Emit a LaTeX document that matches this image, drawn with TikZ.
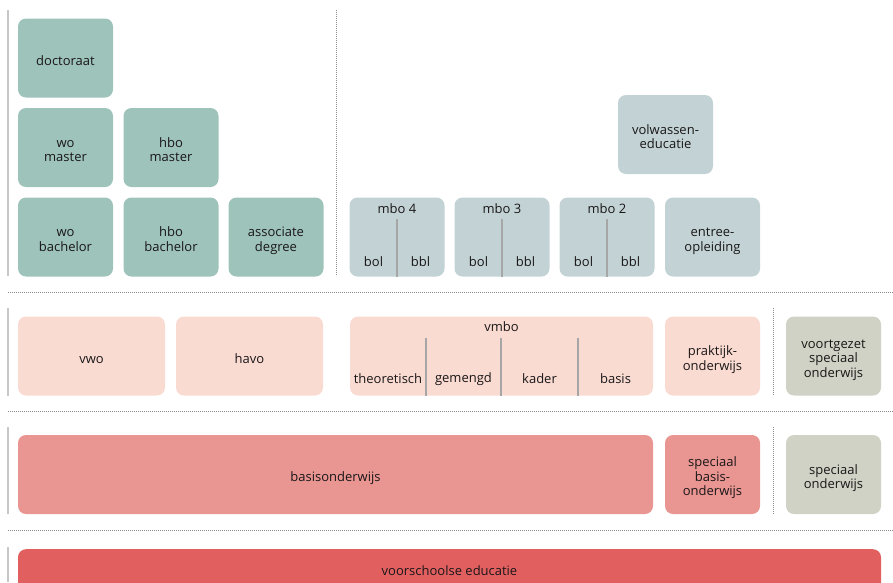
\documentclass[tikz,border=0pt]{standalone}
\usepackage{fontspec}
\setmainfont{Open Sans}
\definecolor{teal1}{HTML}{9EC3BB}
\definecolor{mbo1}{HTML}{C3D3D5}
\definecolor{pink1}{HTML}{FADBD2}
\definecolor{gg1}{HTML}{D0D2C5}
\definecolor{basis1}{HTML}{E99592}
\definecolor{vve1}{HTML}{E25F60}
\definecolor{txt}{HTML}{1A1718}
\newcommand\topstr{\rule{0pt}{17pt}}
\newcommand\botstr{\rule[-3pt]{0pt}{3pt}}
\newcommand\bxt[1]{\topstr#1\botstr}
\begin{document}
\begin{tikzpicture}[x=1pt,y=-1pt,
  box/.style={rounded corners=8pt,inner sep=0pt,align=center,text=txt,
    font=\fontsize{13}{14.5}\selectfont},
  tealbox/.style={box,fill=teal1,minimum width=95,minimum height=79},
  mbobox/.style={box,fill=mbo1,minimum width=95,minimum height=79},
  pinkbox/.style={box,fill=pink1,minimum height=79},
  ggbox/.style={box,fill=gg1,minimum width=95,minimum height=79},
  lbl/.style={inner sep=0pt,text=txt,font=\fontsize{13}{14.5}\selectfont},
  divider/.style={draw=black!35,line width=1.2pt},
  leftline/.style={draw=black!22,line width=1.5pt},
  dotline/.style={draw=black!45,line width=0.6pt,dash pattern=on 0.8pt off 1.2pt}]
\useasboundingbox (0,0) rectangle (893,582);
% left solid lines
\draw[leftline] (8,10) -- (8,276);
\draw[leftline] (8,308) -- (8,396);
\draw[leftline] (8,427) -- (8,514);
\draw[leftline] (8,547) -- (8,582);
% dotted separators
\draw[dotline] (8,292) -- (893,292);
\draw[dotline] (8,411) -- (893,411);
\draw[dotline] (8,530) -- (893,530);
\draw[dotline] (336,10) -- (336,276);
\draw[dotline] (773,308) -- (773,396);
\draw[dotline] (773,427) -- (773,514);
% higher education
\node[tealbox] (doc) at (65.5,58) {\bxt{doctoraat}};
\node[tealbox] (wom) at (65.5,147.5) {\bxt{wo\\master}};
\node[tealbox] (hbom) at (171,147.5) {\bxt{hbo\\master}};
\node[tealbox] (wob) at (65.5,237) {\bxt{wo\\bachelor}};
\node[tealbox] (hbob) at (171,237) {\bxt{hbo\\bachelor}};
\node[tealbox] (ad) at (276,237) {\bxt{associate\\degree}};
% mbo
\node[mbobox] (vol) at (665.5,134.5) {\bxt{volwassen-\\educatie}};
\node[mbobox] (entree) at (712.5,237) {\bxt{entree-\\opleiding}};
\foreach \n/\cx in {4/397,3/502,2/607}{
  \node[mbobox] (mbo\n) at (\cx,237) {};
  \node[lbl] (mbo\n t) at (\cx,209) {mbo \n};
  \node[lbl] (mbo\n a) at (\cx-23.5,262) {bol};
  \node[lbl] (mbo\n b) at (\cx+23.5,262) {bbl};
  \draw[divider] (mbo\n.south) ++(0,0) -- ++(0,-58);
}
% secondary
\node[pinkbox,minimum width=147] (vwo) at (91.5,356) {\bxt{vwo}};
\node[pinkbox,minimum width=147] (havo) at (249.5,356) {\bxt{havo}};
\node[pinkbox,minimum width=303] (vmbo) at (501.5,356) {};
\node[lbl] (vmbot) at (501.5,327) {vmbo};
\node[lbl] (vth) at (388,379) {theoretisch};
\node[lbl] (vge) at (463.5,379) {gemengd};
\node[lbl] (vka) at (539.5,379) {kader};
\node[lbl] (vba) at (615.5,379) {basis};
\foreach \dx in {426,501,578}{
  \draw[divider] (\dx,338) -- (\dx,395.5);
}
\node[pinkbox,minimum width=95] (pro) at (712.5,356) {\bxt{praktijk-\\onderwijs}};
\node[ggbox] (vso) at (833.5,356) {\bxt{voortgezet\\speciaal\\onderwijs}};
% primary
\node[box,fill=basis1,minimum width=635,minimum height=79] (bao) at (335.5,474.5) {\bxt{basisonderwijs}};
\node[box,fill=basis1,minimum width=95,minimum height=79] (sbo) at (712.5,474.5) {\bxt{speciaal\\basis-\\onderwijs}};
\node[ggbox] (so) at (833.5,474.5) {\bxt{speciaal\\onderwijs}};
% voorschool
\begin{scope}
\clip (0,0) rectangle (893,582);
\node[box,fill=vve1,minimum width=863,minimum height=60,anchor=north] (vve) at (449.5,549) {};
\end{scope}
\node[lbl] (vvet) at (449.5,571) {voorschoolse educatie};
\end{tikzpicture}
\end{document}
